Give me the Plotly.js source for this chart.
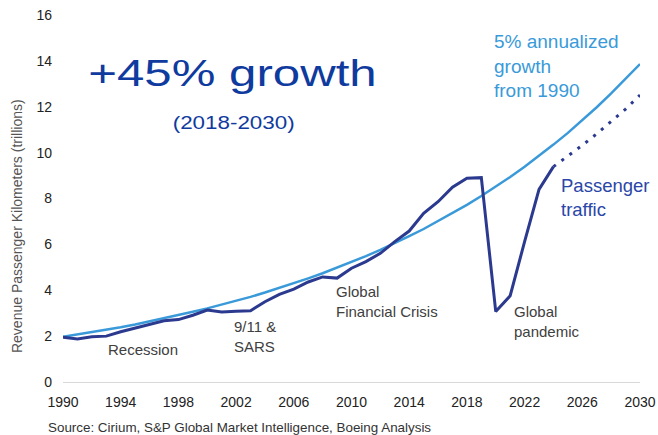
<!DOCTYPE html>
<html>
<head>
<meta charset="utf-8">
<script src="https://cdn.plot.ly/plotly-3.0.1.min.js"></script>
<style>
html,body{margin:0;padding:0;background:#fff;}
#chart{width:658px;height:435px;}
#chart g.annotation[data-index="0"] text.annotation-text{
  transform-box: fill-box; transform-origin: center; transform: scaleX(1.33);
}
#chart g.annotation[data-index="1"] text.annotation-text{
  transform-box: fill-box; transform-origin: center; transform: scaleX(1.28);
}
</style>
</head>
<body>
<div id="chart"></div>
<script>
// Years
const years = [1990,1991,1992,1993,1994,1995,1996,1997,1998,1999,2000,2001,2002,2003,2004,2005,2006,2007,2008,2009,2010,2011,2012,2013,2014,2015,2016,2017,2018,2019,2020,2021,2022,2023,2024,2025,2026,2027,2028,2029,2030];
// 5% annualized growth reference curve
const growthValues = [1.97,2.07,2.17,2.28,2.39,2.51,2.64,2.77,2.91,3.06,3.21,3.37,3.54,3.71,3.90,4.10,4.30,4.52,4.74,4.98,5.23,5.49,5.76,6.05,6.36,6.67,7.01,7.36,7.72,8.11,8.51,8.94,9.38,9.85,10.35,10.86,11.41,11.98,12.58,13.20,13.86];
// Actual passenger traffic 1990-2024
const trafficYears = [1990,1991,1992,1993,1994,1995,1996,1997,1998,1999,2000,2001,2002,2003,2004,2005,2006,2007,2008,2009,2010,2011,2012,2013,2014,2015,2016,2017,2018,2019,2020,2021,2022,2023,2024];
const trafficValues = [1.95,1.88,1.97,2.0,2.19,2.35,2.53,2.67,2.72,2.91,3.14,3.05,3.08,3.11,3.50,3.82,4.05,4.36,4.58,4.53,4.96,5.25,5.61,6.12,6.58,7.35,7.86,8.49,8.88,8.91,3.07,3.76,6.12,8.40,9.39];
// Forecast 2024-2030
const forecastYears = [2024,2025,2026,2027,2028,2029,2030];
const forecastValues = [9.39,9.85,10.32,10.82,11.34,11.90,12.51];
const xTicks = [1990,1994,1998,2002,2006,2010,2014,2018,2022,2026,2030];
const yTicks = [0,2,4,6,8,10,12,14,16];

const darkBlue = '#2b3a8f';
const lightBlue = '#3a9ad9';
const titleBlue = '#0f3a9e';
const gray = '#404040';

const traces = [
  {x: years, y: growthValues, type:'scatter', mode:'lines', line:{color:lightBlue, width:2.5}, cliponaxis:false, hoverinfo:'skip'},
  {x: trafficYears, y: trafficValues, type:'scatter', mode:'lines', line:{color:darkBlue, width:3}, cliponaxis:false, hoverinfo:'skip'},
  {x: forecastYears, y: forecastValues, type:'scatter', mode:'lines', line:{color:darkBlue, width:3, dash:'3px,7px'}, cliponaxis:false, hoverinfo:'skip'}
];

const F = 'Liberation Sans, Arial, Helvetica, sans-serif';
function ann(text, x, y, size, color, xanchor){
  return {text:text, x:x, y:y, xref:'x', yref:'y', showarrow:false, xanchor:xanchor||'left', yanchor:'middle', align:xanchor==='center'?'center':'left', font:{family:F, size:size, color:color}};
}

const layout = {
  width:658, height:435,
  margin:{l:63, r:18, t:15, b:53, pad:0},
  paper_bgcolor:'#fff', plot_bgcolor:'#fff',
  showlegend:false,
  font:{family:F, size:14, color:'#222'},
  xaxis:{range:[1990,2030], tickvals:xTicks, ticktext:xTicks.map(String), showgrid:false, zeroline:false, showline:true, linecolor:'#d9d9d9', linewidth:1, ticks:'', ticklabelstandoff:7, tickfont:{family:F, size:14, color:'#222'}, fixedrange:true},
  yaxis:{range:[0,16], tickvals:yTicks, ticktext:yTicks.map(String), showgrid:false, zeroline:false, showline:false, ticks:'', ticklabelstandoff:10, tickfont:{family:F, size:14, color:'#222'}, fixedrange:true},
  annotations:[
    ann('+45% growth', 2001.75, 13.45, 37, titleBlue, 'center'),
    ann('(2018-2030)', 2001.85, 11.29, 17.5, titleBlue, 'center'),
    ann('5% annualized<br>growth<br>from 1990', 2019.75, 13.78, 19, lightBlue),
    ann('Passenger<br>traffic', 2024.4, 8.06, 18.5, '#2a46a8'),
    ann('Recession', 1993.0, 1.42, 15, gray),
    ann('9/11 &amp;<br>SARS', 2001.7, 1.98, 15, gray),
    ann('Global<br>Financial Crisis', 2008.8, 3.53, 15, gray),
    ann('Global<br>pandemic', 2021.1, 2.63, 15, gray),
    {text:'Revenue Passenger Kilometers (trillions)', xref:'paper', yref:'paper', x:-0.0797, y:0.425, textangle:-90, showarrow:false, xanchor:'center', yanchor:'middle', font:{family:F, size:14, color:'#555'}},
    {text:'Source: Cirium, S&amp;P Global Market Intelligence, Boeing Analysis', xref:'paper', yref:'paper', x:-0.0295, y:-0.125, showarrow:false, xanchor:'left', yanchor:'middle', font:{family:F, size:13.4, color:'#333'}}
  ]
};

Plotly.newPlot('chart', traces, layout, {displayModeBar:false, staticPlot:true});
</script>
</body>
</html>
